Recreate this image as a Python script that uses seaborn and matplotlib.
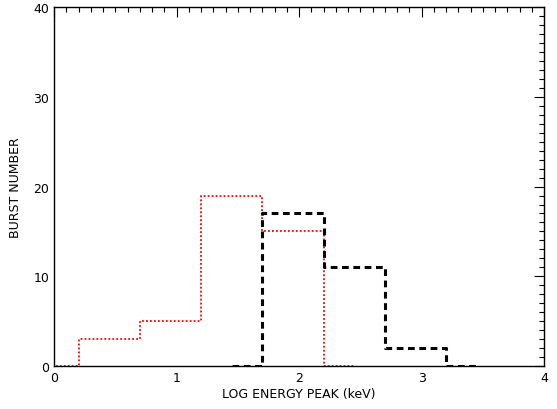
import numpy as np
import pandas as pd
import seaborn as sns
import matplotlib
matplotlib.use("Agg")
import matplotlib.pyplot as plt
from matplotlib.ticker import MultipleLocator

# histogram bin centres (log keV) and counts
red_centers = [-0.05, 0.45, 0.95, 1.45, 1.95, 2.45]
red_counts = [0, 3, 5, 19, 15, 0]
black_centers = [1.45, 1.95, 2.45, 2.95, 3.45]
black_counts = [0, 17, 11, 2, 0]

sns.set_style("white")
plt.rcParams["font.family"] = ["DejaVu Sans"]
plt.rcParams["text.color"] = "black"
plt.rcParams["axes.labelcolor"] = "black"
plt.rcParams["xtick.color"] = "black"
plt.rcParams["ytick.color"] = "black"

fig = plt.figure(figsize=(5.57, 4.10), dpi=100)
ax = fig.add_axes([0.097, 0.105, 0.880, 0.875])

red_df = pd.DataFrame({"x": red_centers, "y": red_counts})
black_df = pd.DataFrame({"x": black_centers, "y": black_counts})

sns.lineplot(data=red_df, x="x", y="y", ax=ax, color="red", linestyle=(0, (1, 1.2)),
             linewidth=1.3, drawstyle="steps-mid", sort=False)
sns.lineplot(data=black_df, x="x", y="y", ax=ax, color="black", linestyle=(0, (2.2, 1.5)),
             linewidth=2.2, drawstyle="steps-mid", sort=False)

ax.set_xlim(0, 4)
ax.set_ylim(0, 40)
ax.xaxis.set_major_locator(MultipleLocator(1))
ax.xaxis.set_minor_locator(MultipleLocator(0.1))
ax.yaxis.set_major_locator(MultipleLocator(10))
ax.yaxis.set_minor_locator(MultipleLocator(1))
ax.tick_params(which="both", direction="in", top=True, right=True,
               labelsize=9, width=0.8)
ax.tick_params(which="major", length=7.5)
ax.tick_params(which="minor", length=3.5)
for s in ax.spines.values():
    s.set_color("black")
    s.set_linewidth(1.0)

ax.set_xlabel("LOG ENERGY PEAK (keV)", fontsize=9, labelpad=2)
ax.set_ylabel("BURST NUMBER", fontsize=9, labelpad=8)

fig.savefig("out.png", dpi=100)
